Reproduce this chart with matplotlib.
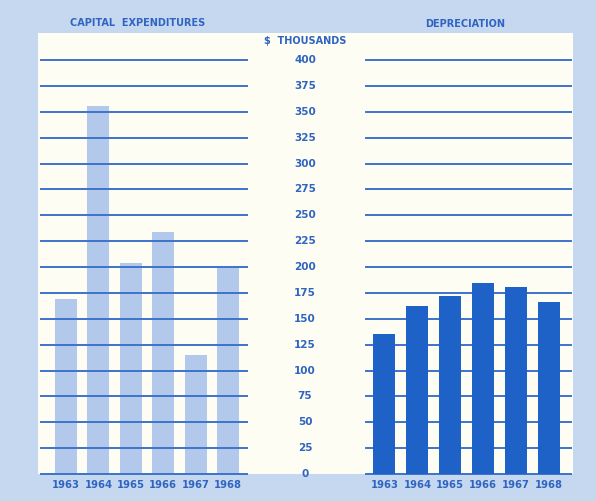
import matplotlib
matplotlib.use("Agg")
import matplotlib.pyplot as plt
import numpy as np

# --- data ($ thousands) ---
years = ["1963", "1964", "1965", "1966", "1967", "1968"]
capital_expenditures = [169, 356, 204, 234, 115, 200]
depreciation = [135, 162, 172, 185, 181, 166]
y_ticks = list(range(0, 425, 25))

W, H = 596, 501
BG = "#c6d8f0"
CREAM = "#fdfdf3"
TEXT = "#2f64c0"
GRID = "#3d73cc"
LIGHT_BAR = "#b3c9ec"
DARK_BAR = "#1e62c8"

# pixel geometry of the plotting area
Y0_PX, Y400_PX = 474, 60


def fx(px):
    return px / W


def fy(py):
    return 1 - py / H


def panel(fig, x_left, x_right, x_first, step, values, color, grid_on_top):
    ax = fig.add_axes([fx(x_left), fy(Y0_PX), fx(x_right - x_left),
                       (Y0_PX - Y400_PX) / H])
    ax.set_facecolor("none")
    ax.set_zorder(2)
    x = np.arange(len(values))
    ax.bar(x, values, width=22 / step, color=color, zorder=2)
    for v in y_ticks:
        ax.axhline(v, color=GRID, lw=1.4, clip_on=False,
                   zorder=3 if grid_on_top else 1)
    ax.set_xlim(-(x_first - x_left) / step, (x_right - x_first) / step)
    ax.set_ylim(0, 400)
    ax.set_xticks(x)
    ax.set_xticklabels(years, fontsize=7.2, color=TEXT, fontweight="bold")
    ax.tick_params(axis="x", length=0, pad=4)
    ax.set_yticks([])
    for s in ax.spines.values():
        s.set_visible(False)
    return ax


fig = plt.figure(figsize=(W / 100, H / 100), dpi=100, facecolor=BG)

# cream inner sheet, behind the panels
sheet = fig.add_axes([fx(38), fy(474), fx(573 - 38), (474 - 33) / H])
sheet.set_facecolor(CREAM)
sheet.set_zorder(0)
sheet.set_xticks([])
sheet.set_yticks([])
for s in sheet.spines.values():
    s.set_visible(False)

panel(fig, 41, 247, 66, 32.4, capital_expenditures, LIGHT_BAR, True)
panel(fig, 366, 571, 384.5, 32.9, depreciation, DARK_BAR, False)

# shared value scale in the middle
for v in y_ticks:
    py = Y0_PX - v * (Y0_PX - Y400_PX) / 400
    fig.text(fx(305), fy(py), str(v), ha="center", va="center",
             fontsize=7.5, color=TEXT, fontweight="bold", zorder=5)

fig.text(fx(305), fy(41), "$  THOUSANDS", ha="center", va="center",
         fontsize=7, color=TEXT, fontweight="bold", zorder=5)
fig.text(fx(138), fy(23), "CAPITAL  EXPENDITURES", ha="center", va="center",
         fontsize=7, color=TEXT, fontweight="bold")
fig.text(fx(465), fy(24), "DEPRECIATION", ha="center", va="center",
         fontsize=7, color=TEXT, fontweight="bold")

fig.savefig("out.png", dpi=100, facecolor=BG)
